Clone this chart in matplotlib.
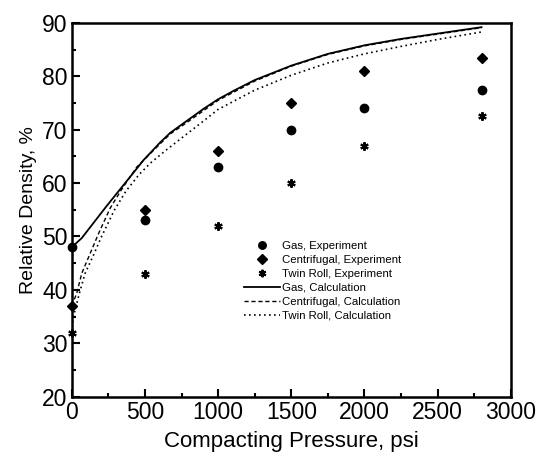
import matplotlib
matplotlib.use("Agg")
import matplotlib.pyplot as plt
from matplotlib.ticker import MultipleLocator

plt.rcParams['font.family'] = ['Liberation Sans', 'DejaVu Sans']

# Experimental data
p_exp = [0, 500, 1000, 1500, 2000, 2800]
gas_exp = [48, 53, 63, 70, 74, 77.5]
cent_exp = [37, 55, 66, 75, 81, 83.5]
twin_exp = [32, 43, 52, 60, 67, 72.5]

# Calculated curves
p_gas_calc = [0, 68, 235, 420, 490, 600, 672, 763, 900, 1000, 1100, 1250, 1500, 1750, 2000, 2250, 2500, 2800]
gas_calc = [48, 49.7, 55.6, 61.9, 64.3, 67.5, 69.4, 71.2, 73.9, 75.7, 77.2, 79.3, 82.0, 84.2, 85.8, 87.0, 88.0, 89.2]

p_cent_calc = [0, 34, 68, 125, 190, 262, 340, 444, 550, 672, 763, 1000, 1250, 1500, 1750, 2000, 2250, 2500, 2800]
cent_calc = [37, 39.4, 43.1, 46.8, 51.0, 55.3, 58.8, 63.0, 65.9, 69.2, 70.9, 75.5, 79.1, 81.9, 84.1, 85.7, 86.9, 87.9, 89.1]

p_twin_calc = [0, 20, 52, 91, 148, 200, 290, 370, 460, 535, 650, 763, 880, 1000, 1250, 1500, 1750, 2000, 2250, 2500, 2800]
twin_calc = [33, 36, 39.4, 43.1, 46.5, 49.8, 54.9, 58.5, 61.6, 63.7, 66.3, 68.7, 71.2, 73.8, 77.4, 80.2, 82.5, 84.2, 85.6, 86.9, 88.3]

fig = plt.figure(figsize=(5.36, 4.58), dpi=100)
ax = fig.add_axes([0.134, 0.134, 0.819, 0.816])

ax.plot(p_exp, gas_exp, 'o', color='black', markersize=6, clip_on=False, label='Gas, Experiment', zorder=5)
ax.plot(p_exp, cent_exp, 'D', color='black', markersize=5.5, clip_on=False, label='Centrifugal, Experiment', zorder=5)
ax.plot(p_exp, twin_exp, marker=(6, 2, 0), linestyle='none', color='black', markersize=6, markeredgewidth=1.5,
        clip_on=False, label='Twin Roll, Experiment', zorder=5)
ax.plot(p_gas_calc, gas_calc, '-', color='black', lw=1.3, label='Gas, Calculation')
ax.plot(p_cent_calc, cent_calc, '--', color='black', lw=1.0, dashes=(3, 2), label='Centrifugal, Calculation')
ax.plot(p_twin_calc, twin_calc, ':', color='black', lw=1.2, dashes=(1, 2), label='Twin Roll, Calculation')

ax.set_xlim(0, 3000)
ax.set_ylim(20, 90)
ax.xaxis.set_major_locator(MultipleLocator(500))
ax.xaxis.set_minor_locator(MultipleLocator(250))
ax.yaxis.set_major_locator(MultipleLocator(10))
ax.yaxis.set_minor_locator(MultipleLocator(5))
ax.tick_params(which='both', direction='in', top=False, right=False, labelsize=16.5, width=1.5)
ax.tick_params(which='major', length=6, pad=3)
ax.tick_params(which='minor', length=3)
for s in ax.spines.values():
    s.set_linewidth(1.8)

ax.set_xlabel('Compacting Pressure, psi', fontsize=16, labelpad=5)
ax.set_ylabel('Relative Density, %', fontsize=14, labelpad=4)

leg = ax.legend(loc='upper left', bbox_to_anchor=(0.38, 0.432), frameon=False, fontsize=8.2,
                handlelength=3.1, handletextpad=0.25, labelspacing=0.35, borderpad=0, markerscale=0.9)

fig.savefig('out.png', dpi=100)
